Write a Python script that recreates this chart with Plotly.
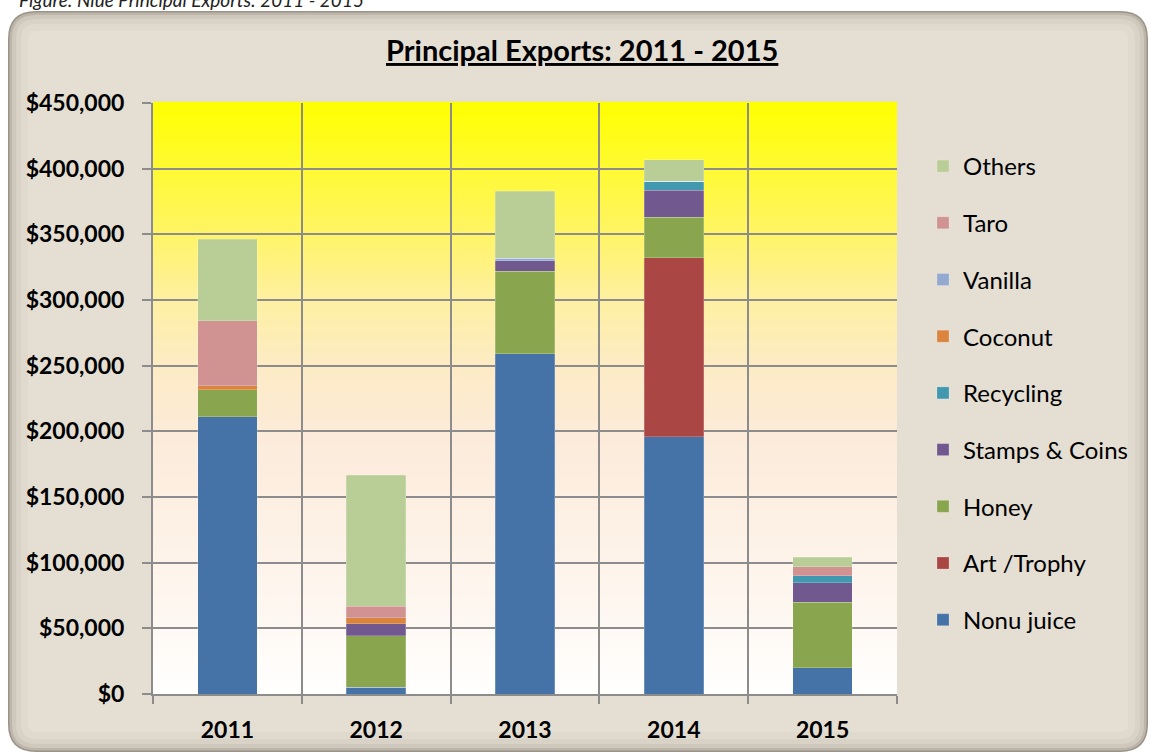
import plotly.graph_objects as go

# ---------------- data ----------------
years = ["2011", "2012", "2013", "2014", "2015"]
nonu_juice = [211000, 5000, 259000, 196000, 20000]
art_trophy = [0, 0, 0, 136000, 0]
honey = [20500, 39500, 63000, 31000, 50000]
stamps_coins = [0, 9000, 7700, 20400, 14800]
recycling = [0, 0, 0, 7000, 5200]
coconut = [3300, 4400, 0, 0, 0]
vanilla = [0, 0, 2000, 0, 0]
taro = [49500, 8800, 0, 0, 7000]
others = [62000, 99700, 51000, 16500, 7000]

series_names = ["Nonu juice", "Art /Trophy", "Honey", "Stamps & Coins", "Recycling",
                "Coconut", "Vanilla", "Taro", "Others"]
series_values = [nonu_juice, art_trophy, honey, stamps_coins, recycling,
                 coconut, vanilla, taro, others]
series_colors = ["#4572A7", "#AA4643", "#89A54E", "#71588F", "#4198AF",
                 "#DB843D", "#93A9CF", "#D19392", "#B9CD96"]

title_text = "Principal Exports: 2011 - 2015"
caption_text = "Figure: Niue Principal Exports: 2011 - 2015"

# ---------------- layout geometry ----------------
W, H = 1150, 756
L, R, T, B = 153, 897, 103, 694  # plot area in px
PW, PH = R - L, B - T


def px_x(px):
    return (px - L) / PW


def px_y(py):
    return (B - py) / PH


def rounded_rect(x0, y0, x1, y1, r):
    def P(x, y):
        return f"{px_x(x):.5f},{px_y(y):.5f}"
    return (f"M {P(x0 + r, y0)} L {P(x1 - r, y0)} Q {P(x1, y0)} {P(x1, y0 + r)} "
            f"L {P(x1, y1 - r)} Q {P(x1, y1)} {P(x1 - r, y1)} "
            f"L {P(x0 + r, y1)} Q {P(x0, y1)} {P(x0, y1 - r)} "
            f"L {P(x0, y0 + r)} Q {P(x0, y0)} {P(x0 + r, y0)} Z")


fig = go.Figure()

n = len(series_names)
for i, (name, vals, col) in enumerate(zip(series_names, series_values, series_colors)):
    fig.add_trace(go.Bar(
        x=years, y=vals, name=name, legendgroup=name, legendrank=n - i,
        marker=dict(color=col, line=dict(width=0.6, color="rgba(255,255,255,0.35)")),
    ))

shapes = []
# stone-like frame (approximated with nested rounded rects)
frame = [(0, "#9a9388"), (1.5, "#bdb5a9"), (4, "#cfc8bc"), (8, "#d9d2c7"), (13, "#e0d9ce"), (20, "#e4ded3")]
for inset, col in frame:
    shapes.append(dict(type="path", xref="paper", yref="paper", layer="below",
                       path=rounded_rect(8 + inset, 11 + inset, 1148 - inset, 752 - inset, max(28 - inset, 6)),
                       fillcolor=col, line=dict(width=0)))

# plot-area gradient (yellow top -> peach -> white bottom)
stops = [(0.0, (255, 255, 255)), (0.16, (254, 246, 239)), (0.43, (252, 235, 218)),
         (0.55, (253, 235, 198)), (0.67, (254, 240, 160)), (0.77, (255, 244, 106)),
         (1.0, (255, 255, 0))]


def grad(t):
    for (t0, c0), (t1, c1) in zip(stops[:-1], stops[1:]):
        if t0 <= t <= t1:
            f = (t - t0) / (t1 - t0)
            return "rgb(%d,%d,%d)" % tuple(round(a + (b - a) * f) for a, b in zip(c0, c1))
    return "rgb(255,255,0)"


N = 90
for i in range(N):
    y0, y1 = i / N, (i + 1) / N
    shapes.append(dict(type="rect", xref="x domain", yref="y domain", layer="below",
                       x0=0, x1=1, y0=y0, y1=y1 + 0.002,
                       fillcolor=grad((y0 + y1) / 2), line=dict(width=0)))

FONT = "Lato, 'Open Sans', sans-serif"
grid_col = "#8c8c8c"

fig.update_layout(
    width=W, height=H,
    margin=dict(l=L, r=W - R, t=T, b=H - B),
    paper_bgcolor="white", plot_bgcolor="rgba(0,0,0,0)",
    barmode="stack", bargap=0.6,
    shapes=shapes,
    font=dict(family=FONT, color="black"),
    showlegend=True,
    legend=dict(traceorder="grouped", x=px_x(923), xanchor="left", y=px_y(144), yanchor="top",
                font=dict(size=24, family=FONT, color="black"), bgcolor="rgba(0,0,0,0)",
                tracegroupgap=22.5, itemwidth=30),
    annotations=[
        dict(text=f"<b><u>{title_text}</u></b>", xref="paper", yref="paper",
             x=px_x(582), y=px_y(50), xanchor="center", yanchor="middle", showarrow=False,
             font=dict(size=29, family=FONT, color="black")),
        dict(text=f"<i>{caption_text}</i>", xref="paper", yref="paper",
             x=px_x(366), y=px_y(-1), xanchor="right", yanchor="middle", showarrow=False,
             font=dict(size=19, family=FONT, color="#222")),
    ],
)

fig.update_yaxes(range=[0, 450000], dtick=50000, tickprefix="$", tickformat=",d",
                 showgrid=True, gridcolor=grid_col, gridwidth=2,
                 showline=True, linecolor=grid_col, linewidth=2,
                 ticks="outside", ticklen=9, tickcolor=grid_col, tickwidth=2,
                 ticklabelstandoff=13, zeroline=False,
                 tickfont=dict(size=23, family=FONT, color="black", weight="bold"))
fig.update_xaxes(type="category", tickson="boundaries",
                 showgrid=True, gridcolor=grid_col, gridwidth=2,
                 showline=True, linecolor=grid_col, linewidth=2,
                 ticks="outside", ticklen=8, tickcolor=grid_col, tickwidth=2,
                 ticklabelstandoff=14,
                 tickfont=dict(size=23, family=FONT, color="black", weight="bold"))

fig.write_html("out.html", config={"displayModeBar": False},
               post_script="document.body.style.margin='0';")
